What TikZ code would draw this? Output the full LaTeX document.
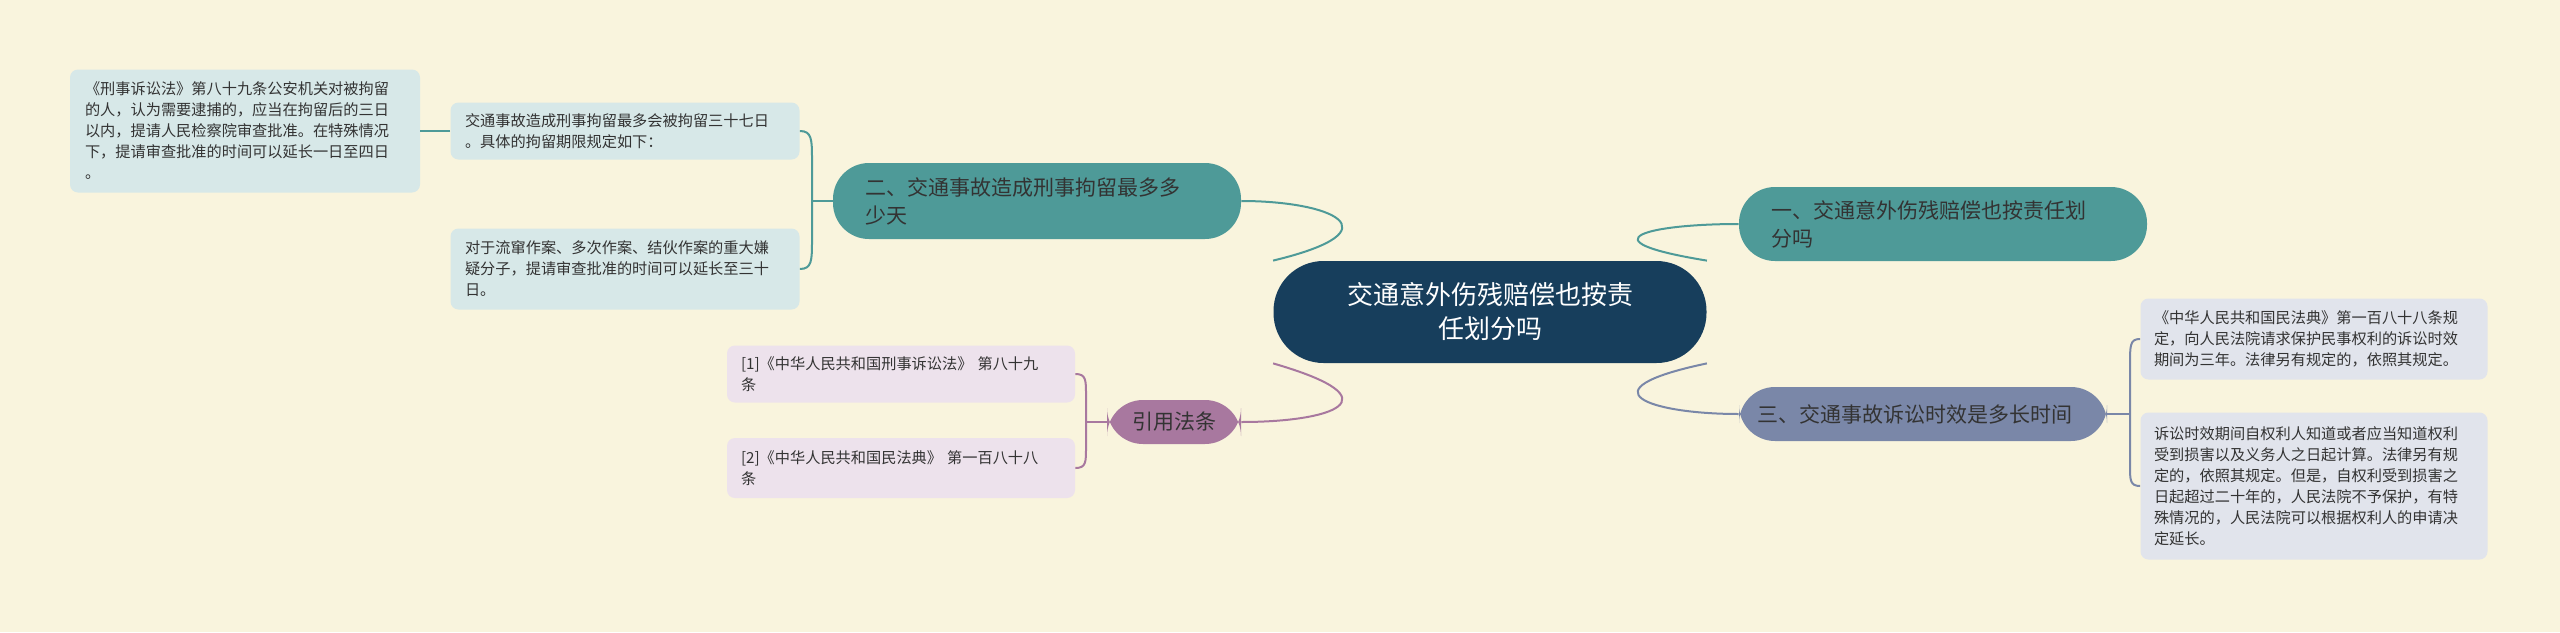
\documentclass[tikz,border=0pt]{standalone}
\usepackage{fontspec}
\setmainfont{Noto Sans CJK SC}
\definecolor{bg}{HTML}{F9F4DD}
\definecolor{navy}{HTML}{173E5C}
\definecolor{teal}{HTML}{4E9A98}
\definecolor{greyb}{HTML}{7A87A8}
\definecolor{purp}{HTML}{A8789F}
\definecolor{leafT}{HTML}{D7E8E8}
\definecolor{leafP}{HTML}{EDE2EC}
\definecolor{leafG}{HTML}{E1E4EC}
\definecolor{txt}{HTML}{333333}
\tikzset{
 rootbox/.style={fill=navy,text=white,rounded corners=25pt,minimum width=216.5pt,minimum height=51pt,align=center,font=\fontsize{13}{17}\selectfont},
 branchbox/.style={rounded corners=18pt,text=txt,align=left,font=\fontsize{10.5}{14}\selectfont,inner sep=0pt},
 leafbox/.style={rounded corners=4pt,text=txt,align=left,font=\fontsize{7.6}{10.5}\selectfont,inner sep=0pt,text width=160pt},
 conn/.style={line width=1pt}
}
\begin{document}
\begin{tikzpicture}[x=0.5pt,y=-0.5pt]
\fill[bg] (0,0) rectangle (2560,632);
\useasboundingbox (0,0) rectangle (2560,632);
\node[rootbox] (root) at (1490,312) {交通意外伤残赔偿也按责\\任划分吗};
\node[branchbox,fill=teal,minimum width=204pt,minimum height=38pt,text width=172pt] (b2) at (1037,201) {二、交通事故造成刑事拘留最多多\\少天};
\node[branchbox,fill=teal,minimum width=204pt,minimum height=37pt,text width=172pt] (b1) at (1943,224) {一、交通意外伤残赔偿也按责任划\\分吗};
\node[branchbox,fill=greyb,minimum width=184pt,minimum height=27pt,text width=166pt] (b3) at (1923,414) {三、交通事故诉讼时效是多长时间};
\node[branchbox,fill=purp,minimum width=67pt,minimum height=22pt,align=center] (ref) at (1174,422) {引用法条};
\node[leafbox,fill=leafT,minimum width=175pt,minimum height=61.5pt] (L0) at (245,131) {《刑事诉讼法》第八十九条公安机关对被拘留\\的人，认为需要逮捕的，应当在拘留后的三日\\以内，提请人民检察院审查批准。在特殊情况\\下，提请审查批准的时间可以延长一日至四日\\。};
\node[leafbox,fill=leafT,minimum width=174.5pt,minimum height=28.5pt] (L1) at (625,131) {交通事故造成刑事拘留最多会被拘留三十七日\\。具体的拘留期限规定如下：};
\node[leafbox,fill=leafT,minimum width=174.5pt,minimum height=40.5pt] (L2) at (625,269) {对于流窜作案、多次作案、结伙作案的重大嫌\\疑分子，提请审查批准的时间可以延长至三十\\日。};
\node[leafbox,fill=leafP,minimum width=174pt,minimum height=28.5pt] (R1) at (901,374) {[1]《中华人民共和国刑事诉讼法》 第八十九\\条};
\node[leafbox,fill=leafP,minimum width=174pt,minimum height=30pt] (R2) at (901,468) {[2]《中华人民共和国民法典》 第一百八十八\\条};
\node[leafbox,fill=leafG,minimum width=173.5pt,minimum height=40.5pt] (Q1) at (2314,339) {《中华人民共和国民法典》第一百八十八条规\\定，向人民法院请求保护民事权利的诉讼时效\\期间为三年。法律另有规定的，依照其规定。};
\node[leafbox,fill=leafG,minimum width=173.5pt,minimum height=73.5pt] (Q2) at (2314,486) {诉讼时效期间自权利人知道或者应当知道权利\\受到损害以及义务人之日起计算。法律另有规\\定的，依照其规定。但是，自权利受到损害之\\日起超过二十年的，人民法院不予保护，有特\\殊情况的，人民法院可以根据权利人的申请决\\定延长。};
% root connectors
\draw[conn,teal] (b2.east) .. controls (1330,201) and (1400,230) .. (root.north west);
\draw[conn,teal] (root.north east) .. controls (1580,240) and (1650,224) .. (b1.west);
\draw[conn,greyb] (root.south east) .. controls (1580,390) and (1650,414) .. (b3.west);
\draw[conn,purp] (root.south west) .. controls (1400,400) and (1330,422) .. (ref.east);
% brackets
\coordinate (j2) at (812,201);
\draw[conn,teal] (b2.west) -- (j2);
\draw[conn,teal] (L1.east) .. controls (812,131) and (812,140) .. (812,160) -- (812,240) .. controls (812,260) and (812,269) .. (L2.east);
\draw[conn,teal] (L1.west) -- (L0.east);
\coordinate (jr) at (1086,422);
\draw[conn,purp] (ref.west) -- (jr);
\draw[conn,purp] (R1.east) .. controls (1086,374) and (1086,380) .. (1086,395) -- (1086,448) .. controls (1086,462) and (1086,468) .. (R2.east);
\coordinate (jq) at (2130,414);
\draw[conn,greyb] (b3.east) -- (jq);
\draw[conn,greyb] (Q1.west) .. controls (2130,339) and (2130,345) .. (2130,365) -- (2130,466) .. controls (2130,480) and (2130,486) .. (Q2.west);
\end{tikzpicture}
\end{document}
